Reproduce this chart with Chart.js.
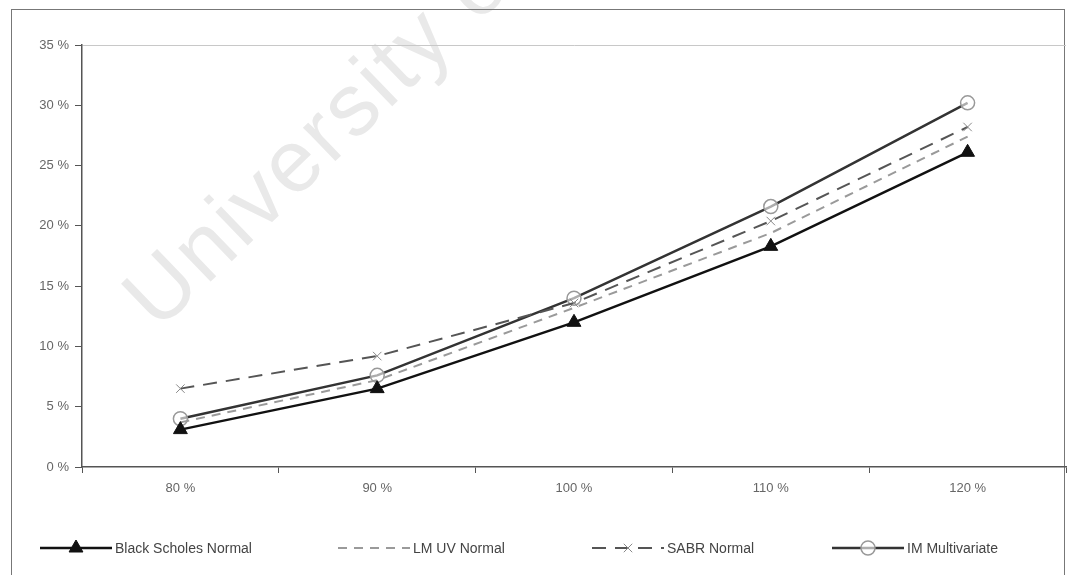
<!DOCTYPE html>
<html>
<head>
<meta charset="utf-8">
<script src="https://cdn.jsdelivr.net/npm/chart.js@4/dist/chart.umd.min.js"></script>
<style>
  html, body { margin: 0; padding: 0; background: #fff; overflow: hidden; }
  .wrap { position: relative; width: 1079px; height: 575px; }
  .mark {
    position: absolute; left: 168px; top: 254px;
    font: 88px/1 "Liberation Sans", Arial, sans-serif;
    letter-spacing: 3px;
    color: #e9e9e9; white-space: nowrap;
    transform-origin: 0 100%; transform: rotate(-44deg);
  }
  .frame {
    position: absolute; left: 11px; top: 9px; width: 1052px; height: 600px;
    border: 1px solid #777; border-bottom: none; pointer-events: none;
  }
  canvas { position: absolute; left: 0; top: 0; }
</style>
</head>
<body>
<div class="wrap">
  <div class="mark">University of Cape Town</div>
  <div class="frame"></div>
  <canvas id="chart" width="1079" height="575"></canvas>
</div>
<script>
// strike levels and volatility curves (in %)
const strikes = ["80 %", "90 %", "100 %", "110 %", "120 %"];
const blackScholes = [3.1, 6.5, 12.0, 18.3, 26.1];
const lmuvNormal = [3.7, 7.2, 13.2, 19.4, 27.4];
const sabrNormal = [6.5, 9.2, 13.6, 20.4, 28.2];
const imMultivariate = [4.0, 7.6, 14.0, 21.6, 30.2];

const seriesNames = ["Black Scholes Normal", "LM UV Normal", "SABR Normal", "IM Multivariate"];

// bottom legend: line sample with the marker in the middle, then the label
const lineLegend = {
  id: "lineLegend",
  afterDraw(chart, args, opts) {
    const { ctx } = chart;
    const y = opts.y;
    chart.data.datasets.forEach((ds, i) => {
      const x0 = opts.starts[i];
      const x1 = x0 + opts.sample;
      ctx.save();
      ctx.strokeStyle = ds.borderColor;
      ctx.lineWidth = ds.borderWidth;
      ctx.setLineDash(ds.borderDash || []);
      ctx.beginPath();
      ctx.moveTo(x0, y);
      ctx.lineTo(x1, y);
      ctx.stroke();
      ctx.setLineDash([]);
      if (ds.pointRadius > 0) {
        ctx.fillStyle = ds.pointBackgroundColor;
        ctx.strokeStyle = ds.pointBorderColor;
        ctx.lineWidth = ds.pointBorderWidth;
        Chart.helpers.drawPoint(ctx, {
          pointStyle: ds.pointStyle,
          radius: ds.pointRadius,
          rotation: 0,
          borderWidth: ds.pointBorderWidth
        }, (x0 + x1) / 2, y);
      }
      ctx.fillStyle = "#444";
      ctx.font = '14px "Liberation Sans", Arial, sans-serif';
      ctx.textBaseline = "middle";
      ctx.fillText(ds.label, x1 + 3, y + 1);
      ctx.restore();
    });
  }
};

new Chart(document.getElementById("chart"), {
  type: "line",
  data: {
    labels: strikes,
    datasets: [
      {
        label: seriesNames[0],
        data: blackScholes,
        borderColor: "#111",
        borderWidth: 2.5,
        pointStyle: "triangle",
        pointRadius: 8,
        pointBackgroundColor: "#111",
        pointBorderColor: "#111",
        pointBorderWidth: 1
      },
      {
        label: seriesNames[1],
        data: lmuvNormal,
        borderColor: "#9a9a9a",
        borderWidth: 2,
        borderDash: [9, 7],
        pointStyle: "line",
        pointRadius: 0,
        pointBackgroundColor: "#9a9a9a",
        pointBorderColor: "#9a9a9a",
        pointBorderWidth: 1
      },
      {
        label: seriesNames[2],
        data: sabrNormal,
        borderColor: "#555",
        borderWidth: 2,
        borderDash: [14, 9],
        pointStyle: "crossRot",
        pointRadius: 6,
        pointBackgroundColor: "#888",
        pointBorderColor: "#888",
        pointBorderWidth: 1
      },
      {
        label: seriesNames[3],
        data: imMultivariate,
        borderColor: "#333",
        borderWidth: 2.5,
        pointStyle: "circle",
        pointRadius: 7,
        pointBackgroundColor: "rgba(255,255,255,0.6)",
        pointBorderColor: "#999",
        pointBorderWidth: 1.5
      }
    ]
  },
  options: {
    responsive: false,
    animation: false,
    layout: { padding: { left: 0, right: 13, top: 45, bottom: 68 } },
    plugins: {
      legend: { display: false },
      tooltip: { enabled: false },
      lineLegend: { y: 548, sample: 72, starts: [40, 338, 592, 832] }
    },
    scales: {
      x: {
        offset: true,
        afterFit: (s) => { s.height = 40; },
        grid: { offset: true, drawOnChartArea: false, tickLength: 6, color: "#555" },
        border: { color: "#555", width: 1.5 },
        ticks: {
          color: "#666",
          padding: 8,
          font: { family: '"Liberation Sans", Arial, sans-serif', size: 13 }
        }
      },
      y: {
        min: 0,
        max: 35,
        afterFit: (s) => { s.width = 82; },
        grid: {
          tickLength: 7,
          tickColor: "#555",
          color: (c) => (c.tick && c.tick.value === 35 ? "#c8c8c8" : "rgba(0,0,0,0)")
        },
        border: { color: "#555", width: 1.5 },
        ticks: {
          stepSize: 5,
          color: "#666",
          padding: 6,
          font: { family: '"Liberation Sans", Arial, sans-serif', size: 13 },
          callback: (v) => v + " %"
        }
      }
    }
  },
  plugins: [lineLegend]
});
</script>
</body>
</html>
